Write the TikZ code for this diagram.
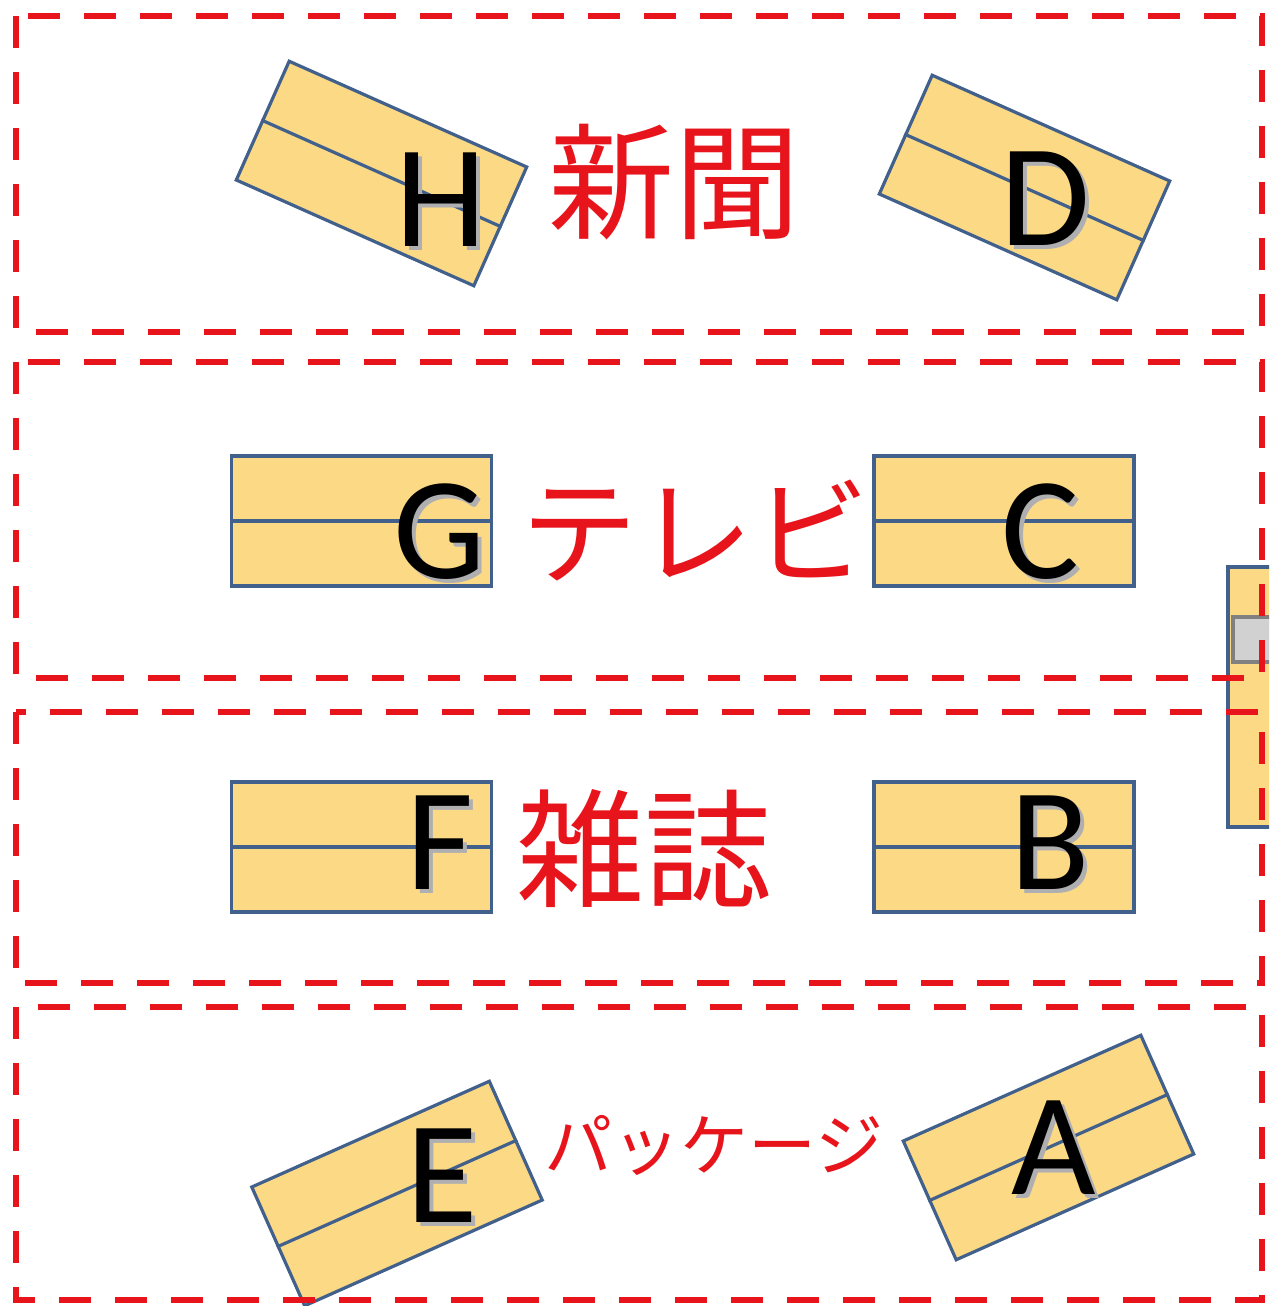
\documentclass[tikz,border=0pt]{standalone}
\usepackage{fontspec}
\newfontfamily\cjk{Noto Sans CJK JP}
\newfontfamily\lat{Carlito}
\definecolor{cardfill}{RGB}{252,217,132}
\definecolor{cardline}{RGB}{65,96,140}
\definecolor{zonered}{RGB}{232,20,27}
\definecolor{shadowgray}{RGB}{175,175,178}
\newcommand{\shadowed}[1]{\rlap{\kern2pt\raisebox{-2pt}{\textcolor{shadowgray}{#1}}}#1}
\tikzset{
  card/.style={draw=cardline, fill=cardfill, line width=1.6pt, minimum width=130pt, minimum height=65pt, inner sep=0pt},
  midline/.style={draw=cardline, line width=1.6pt},
  zone/.style={draw=zonered, line width=3pt, dash pattern=on 16pt off 12pt},
  letter/.style={font=\lat\fontsize{73}{73}\selectfont, text=black, inner sep=0pt, anchor=base},
  zlabel/.style={font=\cjk, text=zonered, inner sep=0pt, anchor=center}
}
\begin{document}
\begin{tikzpicture}[x=0.5pt,y=-0.5pt]
\clip (0,0) rectangle (1269,1306);
\fill[white] (0,0) rectangle (1269,1306);
% partial box at right edge
\draw[cardline, fill=cardfill, line width=1.6pt] (1228,567) rectangle (1300,827);
\draw[draw=gray, fill=black!18, line width=1.6pt] (1233,617) rectangle (1300,662);
% cards
\node[card, rotate=-24] (H) at (381.5,173.5) {};
\node[card, rotate=-24] (D) at (1024.5,187.5) {};
\node[card] (G) at (361.5,521) {};
\node[card] (C) at (1004,521) {};
\node[card] (F) at (361.5,847) {};
\node[card] (B) at (1004,847) {};
\node[card, rotate=24] (E) at (397,1193.5) {};
\node[card, rotate=24] (A) at (1048.5,1147.5) {};
\foreach \n in {H,D,G,C,F,B,E,A} \draw[midline] (\n.west) -- (\n.east);
% letters with shadows
\foreach \n/\x/\y in {H/441/246, D/1045/245, G/440/578, C/1040/578, F/440/889, B/1050/889, E/442/1222, A/1054/1194} {
  \node[letter] (\n t) at (\x,\y) {\shadowed{\n}};
}
% zone labels
\node[zlabel, font=\cjk\fontsize{63}{63}\selectfont] (shinbun) at (674,182) {新聞};
\node[zlabel, font=\cjk\fontsize{58}{58}\selectfont] (terebi) at (695,530) {テレビ};
\node[zlabel, font=\cjk\fontsize{64}{64}\selectfont] (zasshi) at (644,849) {雑誌};
\node[zlabel, font=\cjk\fontsize{34}{34}\selectfont] (package) at (714,1145) {パッケージ};
% dashed zones
\draw[zone] (16,16) rectangle (1262,332);
\draw[zone] (16,362) rectangle (1262,678);
\draw[zone] (16,712) rectangle (1262,983);
\draw[zone] (16,1007) rectangle (1262,1300);
\end{tikzpicture}
\end{document}
